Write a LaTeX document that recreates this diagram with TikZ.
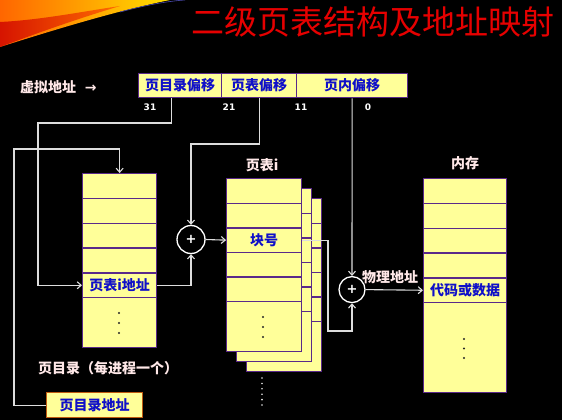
\documentclass[tikz,border=0pt]{standalone}
\usepackage{fontspec}
\setmainfont{DejaVu Sans}
\newfontfamily\cjk{Noto Sans CJK SC}
\usetikzlibrary{arrows.meta}
\definecolor{cellfill}{HTML}{FFFF99}
\definecolor{cellline}{HTML}{5A2A8A}
\definecolor{txtblue}{HTML}{1010C8}
\definecolor{lbl}{HTML}{FFE8E8}
\definecolor{wire}{HTML}{DDDDDD}
\definecolor{titlered}{HTML}{E60000}
\definecolor{boxorange}{HTML}{C05A10}
\tikzset{
  cellbase/.style={draw=cellline, line width=1.3pt, fill=cellfill, inner sep=0pt, anchor=north west, font=\cjk\bfseries\fontsize{14}{16}\selectfont, text=txtblue},
  pdcell/.style={cellbase, minimum width=74pt, minimum height=24.8pt},
  ptcell/.style={cellbase, minimum width=75pt, minimum height=24.6pt},
  memcell/.style={cellbase, minimum width=83pt, minimum height=24.8pt},
  vacell/.style={cellbase, minimum height=24pt},
  lbltext/.style={text=lbl, font=\cjk\bfseries\fontsize{14}{16}\selectfont, inner sep=0pt},
  numtext/.style={text=white, font=\bfseries\fontsize{9}{10}\selectfont, inner sep=0pt},
  conn/.style={draw=wire, line width=1.1pt},
  arr/.style={conn, -{Straight Barb[length=4pt,width=7pt]}},
  plusnode/.style={circle, draw=white, line width=1.3pt, fill=black, text=white, font=\bfseries\fontsize{13}{13}\selectfont, inner sep=0pt},
  dotmark/.style={circle, fill=black!85, inner sep=0pt, minimum size=2.2pt},
  wdot/.style={circle, fill=white!80!gray, inner sep=0pt, minimum size=1.8pt}
}
\begin{document}
\begin{tikzpicture}[x=1pt,y=-1pt]
\fill[black] (0,0) rectangle (562,420);
\useasboundingbox (0,0) rectangle (562,420);
% decorative swoosh
\shade[left color=orange!80!red, right color=yellow!75!orange] (0,0) -- (170,0) .. controls (120,10) and (60,28) .. (0,47) -- cycle;
\shade[left color=red!80!black, right color=orange!70!red, opacity=0.8] (0,22) .. controls (40,20) and (80,12) .. (120,6) .. controls (80,18) and (40,32) .. (0,47) -- cycle;
\draw[blue!40!gray, line width=0.6pt] (120,12) .. controls (150,4) and (170,1) .. (185,0);
% title
\node[text=titlered, font=\cjk\fontsize{33}{38}\selectfont, inner sep=0pt] (title) at (373,22) {二级页表结构及地址映射};
% virtual address
\node[lbltext, anchor=west] (valbl) at (20,87) {虚拟地址 \ \,{\fontspec{DejaVu Sans}\bfseries →}};
\node[vacell, minimum width=83pt] (va1) at (138,73) {页目录偏移};
\node[vacell, minimum width=75pt] (va2) at (221,73) {页表偏移};
\node[vacell, minimum width=111pt] (va3) at (296,73) {页内偏移};
\node[numtext] (n31) at (150,107) {31};
\node[numtext] (n21) at (229,107) {21};
\node[numtext] (n11) at (301,107) {11};
\node[numtext] (n0) at (368,107) {0};
% page directory
\foreach \i/\y in {1/173,2/197.8,3/222.6,4/247.4} \node[pdcell] (pd\i) at (82,\y) {};
\node[pdcell] (pd5) at (82,272.2) {页表i地址};
\node[pdcell, minimum height=50pt] (pd6) at (82,297) {};
\foreach \y [count=\k] in {313,323,333} \node[dotmark] (pdd\k) at (119,\y) {};
\node[lbltext] (pdlbl) at (108,368) {页目录（每进程一个）};
\node[cellbase, draw=boxorange, minimum width=96pt, minimum height=25pt] (pdaddr) at (46,392) {页目录地址};
% page table stack
\foreach \o/\n in {20/c,10/b} {
  \foreach \i in {1,...,5} \node[ptcell] (pt\n\i) at ({226+\o},{178+\o+24.6*(\i-1)}) {};
  \node[ptcell, minimum height=50pt] (pt\n6) at ({226+\o},{301+\o}) {};
}
\foreach \i/\y in {1/178,2/202.6,4/251.8,5/276.4} \node[ptcell] (pt\i) at (226,\y) {};
\node[ptcell] (pt3) at (226,227.2) {块号};
\node[ptcell, minimum height=50pt] (pt6) at (226,301) {};
\foreach \y [count=\k] in {317,327,337} \node[dotmark] (ptd\k) at (263,\y) {};
\foreach \y [count=\k] in {378,383.4,388.8,394.2,399.6,405} \node[wdot] (std\k) at (262,\y) {};
\node[lbltext] (ptlbl) at (262,165) {页表i};
% memory
\foreach \i/\y in {1/178,2/202.8,3/227.6,4/252.4} \node[memcell] (mem\i) at (423,\y) {};
\node[memcell] (mem5) at (423,277.2) {代码或数据};
\node[memcell, minimum height=90pt] (mem6) at (423,302) {};
\foreach \y [count=\k] in {339,348.5,358} \node[dotmark] (memd\k) at (464,\y) {};
\node[lbltext] (memlbl) at (465,163) {内存};
% adders
\node[plusnode, minimum size=28pt] (p1) at (191,239.5) {+};
\node[plusnode, minimum size=26pt] (p2) at (352,289.6) {+};
\node[lbltext] (phys) at (390,277) {物理地址};
% connectors
\coordinate (c1) at (38,123);
\draw[arr] ([xshift=-8.5pt]va1.south) |- (c1) |- (pd5.west);
\coordinate (c2) at (14,149);
\draw[arr] (pdaddr.west) -| (c2) -| (pd1.north);
\draw[arr] (pd5.east) -| (p1.south);
\coordinate (c3) at (191,144);
\draw[arr] (va2.south) |- (c3) -- (p1.north);
\draw[arr] (p1.east) -- (pt3.west);
\coordinate (c4) at (328,331);
\draw[arr] (pt3.east) -| (c4) -| (p2.south);
\draw[arr] (va3.south) -- (p2.north);
\draw[arr] (p2.east) -- (mem5.west);
\end{tikzpicture}
\end{document}
